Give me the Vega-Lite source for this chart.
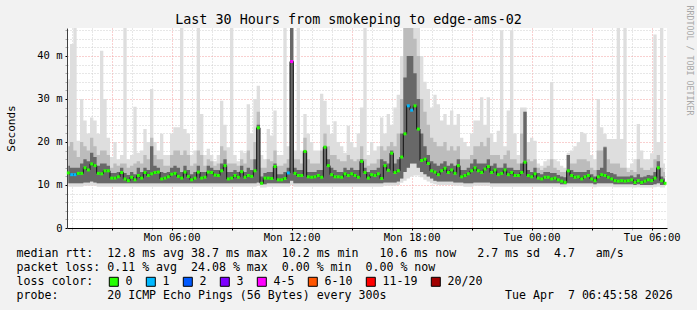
{
  "$schema": "https://vega.github.io/schema/vega-lite/v6.json",
  "autosize": {"type": "none"},
  "padding": {"left": 67, "top": 28, "right": 30, "bottom": 82},
  "width": 600,
  "height": 200,
  "background": "#f2f2f2",
  "config": {
    "view": {"fill": "#ffffff", "stroke": null},
    "font": "DejaVu Sans Mono",
    "axis": {"labelFont": "DejaVu Sans Mono", "titleFont": "DejaVu Sans Mono", "labelColor": "#000000", "titleColor": "#000000", "titleFontWeight": "normal", "labelFontSize": 10.5}
  },
  "data": {"values": [
    {"t":50,"lo":9.6,"q1":10.4,"med":12.8,"dk":14.5,"q3":19,"hi":34.6,"loss":"0"},
    {"t":60,"lo":9.6,"q1":10.4,"med":12.4,"dk":14,"q3":20,"hi":42.8,"loss":"1"},
    {"t":70,"lo":9.6,"q1":10.4,"med":12.4,"dk":14,"q3":18,"hi":46.5,"loss":"1"},
    {"t":80,"lo":9.6,"q1":10.4,"med":12.7,"dk":14,"q3":16.5,"hi":20.3,"loss":"0"},
    {"t":90,"lo":9.6,"q1":10.4,"med":12.7,"dk":15,"q3":20,"hi":30,"loss":"0"},
    {"t":100,"lo":9.8,"q1":10.6,"med":14,"dk":16,"q3":19,"hi":25,"loss":"0"},
    {"t":110,"lo":9.8,"q1":10.6,"med":13.5,"dk":15.5,"q3":18,"hi":22,"loss":"0"},
    {"t":120,"lo":9.8,"q1":10.8,"med":14.9,"dk":17.5,"q3":21,"hi":25.7,"loss":"0"},
    {"t":130,"lo":9.8,"q1":10.6,"med":14.5,"dk":16.5,"q3":19,"hi":25,"loss":"0"},
    {"t":140,"lo":9.6,"q1":10.4,"med":12.7,"dk":14.5,"q3":17,"hi":21.9,"loss":"0"},
    {"t":150,"lo":9.6,"q1":10.4,"med":12.6,"dk":15,"q3":18,"hi":41.2,"loss":"0"},
    {"t":160,"lo":9.6,"q1":10.4,"med":13.3,"dk":15,"q3":18,"hi":30,"loss":"0"},
    {"t":170,"lo":9.6,"q1":10.4,"med":13.3,"dk":14.5,"q3":17,"hi":21,"loss":"0"},
    {"t":180,"lo":9.6,"q1":10.4,"med":11.6,"dk":12.8,"q3":14,"hi":16.5,"loss":"0"},
    {"t":190,"lo":9.6,"q1":10.4,"med":11.6,"dk":12.8,"q3":15,"hi":20,"loss":"0"},
    {"t":200,"lo":9.6,"q1":10.4,"med":11.9,"dk":13,"q3":14.5,"hi":16,"loss":"0"},
    {"t":210,"lo":9.6,"q1":10.4,"med":12.9,"dk":14,"q3":15,"hi":17,"loss":"0"},
    {"t":220,"lo":9.6,"q1":10.4,"med":11.4,"dk":12.8,"q3":15,"hi":46.5,"loss":"0"},
    {"t":230,"lo":9.6,"q1":10.4,"med":11,"dk":12.3,"q3":14,"hi":16,"loss":"0"},
    {"t":240,"lo":9.6,"q1":10.4,"med":11.8,"dk":13,"q3":14.5,"hi":17,"loss":"0"},
    {"t":250,"lo":9.6,"q1":10.4,"med":11.2,"dk":12.5,"q3":15,"hi":28.2,"loss":"0"},
    {"t":260,"lo":9.6,"q1":10.4,"med":12.2,"dk":14,"q3":15.5,"hi":17.5,"loss":"0"},
    {"t":270,"lo":9.6,"q1":10.4,"med":11.6,"dk":13,"q3":15,"hi":18,"loss":"0"},
    {"t":280,"lo":9.6,"q1":10.4,"med":12.9,"dk":14,"q3":17,"hi":23,"loss":"0"},
    {"t":290,"lo":9.6,"q1":10.4,"med":12.2,"dk":13.5,"q3":16,"hi":20,"loss":"0"},
    {"t":300,"lo":9.6,"q1":10.4,"med":12.6,"dk":19,"q3":21,"hi":32.3,"loss":"0"},
    {"t":310,"lo":9.6,"q1":10.4,"med":12.9,"dk":14.5,"q3":17,"hi":20,"loss":"0"},
    {"t":320,"lo":9.6,"q1":10.4,"med":13,"dk":14,"q3":16,"hi":18,"loss":"0"},
    {"t":330,"lo":9.6,"q1":10.4,"med":11.4,"dk":13,"q3":16,"hi":21.9,"loss":"0"},
    {"t":340,"lo":9.6,"q1":10.4,"med":11.6,"dk":12.8,"q3":14.5,"hi":17,"loss":"0"},
    {"t":350,"lo":9.6,"q1":10.4,"med":11.9,"dk":13,"q3":14.5,"hi":17,"loss":"0"},
    {"t":360,"lo":9.6,"q1":10.4,"med":12.5,"dk":14,"q3":17,"hi":22,"loss":"0"},
    {"t":370,"lo":9.6,"q1":10.4,"med":12.7,"dk":14.5,"q3":18,"hi":23.4,"loss":"0"},
    {"t":380,"lo":9.6,"q1":10.4,"med":12,"dk":14,"q3":18,"hi":23.4,"loss":"0"},
    {"t":390,"lo":9.6,"q1":10.4,"med":11.6,"dk":13,"q3":17,"hi":46.5,"loss":"0"},
    {"t":400,"lo":9.6,"q1":10.4,"med":13,"dk":14.5,"q3":18,"hi":23,"loss":"0"},
    {"t":410,"lo":9.6,"q1":10.4,"med":12,"dk":13.5,"q3":17,"hi":22,"loss":"0"},
    {"t":420,"lo":9.6,"q1":10.4,"med":11.2,"dk":12.5,"q3":14.5,"hi":17,"loss":"0"},
    {"t":430,"lo":9.6,"q1":10.4,"med":11.6,"dk":13,"q3":15,"hi":18,"loss":"0"},
    {"t":440,"lo":9.6,"q1":10.4,"med":13,"dk":14.5,"q3":18,"hi":46.5,"loss":"0"},
    {"t":450,"lo":9.6,"q1":10.4,"med":11.6,"dk":13,"q3":17,"hi":26.5,"loss":"0"},
    {"t":460,"lo":9.6,"q1":10.4,"med":11.8,"dk":13,"q3":14.5,"hi":17,"loss":"0"},
    {"t":470,"lo":9.6,"q1":10.4,"med":13,"dk":14.5,"q3":16,"hi":18.4,"loss":"0"},
    {"t":480,"lo":9.6,"q1":10.4,"med":12.9,"dk":14,"q3":15.5,"hi":17,"loss":"0"},
    {"t":490,"lo":9.6,"q1":10.4,"med":12.3,"dk":13.5,"q3":14.5,"hi":15.5,"loss":"0"},
    {"t":500,"lo":9.6,"q1":10.4,"med":12.2,"dk":13.5,"q3":15,"hi":17,"loss":"0"},
    {"t":510,"lo":9.6,"q1":10.4,"med":13.3,"dk":15,"q3":19,"hi":29.6,"loss":"0"},
    {"t":520,"lo":9.6,"q1":10.4,"med":14.5,"dk":16,"q3":18,"hi":24,"loss":"0"},
    {"t":530,"lo":9.6,"q1":10.4,"med":11.4,"dk":13,"q3":15,"hi":18.8,"loss":"0"},
    {"t":540,"lo":9.6,"q1":10.4,"med":11.6,"dk":13,"q3":15,"hi":46.5,"loss":"0"},
    {"t":550,"lo":9.6,"q1":10.4,"med":12.2,"dk":13.5,"q3":15,"hi":17,"loss":"0"},
    {"t":560,"lo":9.6,"q1":10.4,"med":11.8,"dk":13,"q3":14.5,"hi":15.5,"loss":"0"},
    {"t":570,"lo":9.6,"q1":10.4,"med":13.1,"dk":14.5,"q3":16,"hi":18,"loss":"0"},
    {"t":580,"lo":9.6,"q1":10.4,"med":11.8,"dk":13,"q3":15,"hi":17.5,"loss":"0"},
    {"t":590,"lo":9.6,"q1":10.4,"med":12.2,"dk":14,"q3":18,"hi":28.8,"loss":"0"},
    {"t":600,"lo":9.6,"q1":10.4,"med":12,"dk":13.5,"q3":16,"hi":22,"loss":"0"},
    {"t":610,"lo":9.6,"q1":10.4,"med":13.3,"dk":16,"q3":20,"hi":30,"loss":"0"},
    {"t":620,"lo":9.8,"q1":10.6,"med":23.3,"dk":24,"q3":27,"hi":33.1,"loss":"0"},
    {"t":630,"lo":9.4,"q1":10.2,"med":10.4,"dk":12,"q3":14,"hi":17,"loss":"0"},
    {"t":640,"lo":9.4,"q1":10.2,"med":11.6,"dk":12.8,"q3":14,"hi":16,"loss":"0"},
    {"t":650,"lo":9.6,"q1":10.4,"med":11.6,"dk":13,"q3":16,"hi":23,"loss":"0"},
    {"t":660,"lo":9.6,"q1":10.4,"med":11.5,"dk":13,"q3":15.5,"hi":21.5,"loss":"0"},
    {"t":670,"lo":9.6,"q1":10.4,"med":14.3,"dk":15,"q3":18,"hi":27.3,"loss":"0"},
    {"t":680,"lo":9.6,"q1":10.4,"med":11.2,"dk":12.5,"q3":14.5,"hi":17,"loss":"0"},
    {"t":690,"lo":9.6,"q1":10.4,"med":11.2,"dk":12.5,"q3":14.5,"hi":17,"loss":"0"},
    {"t":700,"lo":9.6,"q1":10.4,"med":11.5,"dk":13,"q3":15,"hi":46.5,"loss":"0"},
    {"t":710,"lo":9.6,"q1":10.4,"med":12.8,"dk":14,"q3":16,"hi":19,"loss":"1"},
    {"t":720,"lo":10,"q1":11,"med":38.7,"dk":46.5,"q3":46.5,"hi":46.5,"loss":"4-5"},
    {"t":730,"lo":9.6,"q1":10.4,"med":12.7,"dk":14,"q3":16,"hi":18,"loss":"0"},
    {"t":740,"lo":9.6,"q1":10.4,"med":12.2,"dk":13.5,"q3":16,"hi":46.5,"loss":"0"},
    {"t":750,"lo":9.6,"q1":10.4,"med":12.2,"dk":13.5,"q3":15,"hi":18,"loss":"0"},
    {"t":760,"lo":9.6,"q1":10.4,"med":17.8,"dk":18,"q3":21,"hi":26.5,"loss":"0"},
    {"t":770,"lo":9.6,"q1":10.4,"med":11.9,"dk":13,"q3":16,"hi":21.9,"loss":"0"},
    {"t":780,"lo":9.6,"q1":10.4,"med":11.8,"dk":13,"q3":15,"hi":20,"loss":"0"},
    {"t":790,"lo":9.6,"q1":10.4,"med":11.9,"dk":13,"q3":15,"hi":18,"loss":"0"},
    {"t":800,"lo":9.6,"q1":10.4,"med":12.2,"dk":13.5,"q3":15,"hi":18,"loss":"0"},
    {"t":810,"lo":9.6,"q1":10.4,"med":11.8,"dk":13.5,"q3":18,"hi":31.2,"loss":"0"},
    {"t":820,"lo":9.6,"q1":10.4,"med":18.8,"dk":19,"q3":22,"hi":29.6,"loss":"0"},
    {"t":830,"lo":9.6,"q1":10.4,"med":14.5,"dk":16,"q3":19,"hi":24,"loss":"0"},
    {"t":840,"lo":9.6,"q1":10.4,"med":12.4,"dk":14,"q3":17,"hi":21.9,"loss":"0"},
    {"t":850,"lo":9.6,"q1":10.4,"med":11.9,"dk":13.5,"q3":17,"hi":24.8,"loss":"0"},
    {"t":860,"lo":9.6,"q1":10.4,"med":11.9,"dk":13,"q3":16,"hi":20,"loss":"0"},
    {"t":870,"lo":9.6,"q1":10.4,"med":11.8,"dk":13,"q3":15.5,"hi":19,"loss":"0"},
    {"t":880,"lo":9.6,"q1":10.4,"med":12.6,"dk":14,"q3":15.5,"hi":17.5,"loss":"0"},
    {"t":890,"lo":9.6,"q1":10.4,"med":12.2,"dk":13.5,"q3":17,"hi":23.8,"loss":"0"},
    {"t":900,"lo":9.6,"q1":10.4,"med":12.6,"dk":14,"q3":16,"hi":20,"loss":"0"},
    {"t":910,"lo":9.6,"q1":10.4,"med":12.2,"dk":13.5,"q3":15.5,"hi":18.8,"loss":"0"},
    {"t":920,"lo":9.6,"q1":10.4,"med":11.8,"dk":13.5,"q3":16,"hi":22,"loss":"0"},
    {"t":930,"lo":9.6,"q1":10.4,"med":15.5,"dk":16,"q3":19,"hi":28,"loss":"0"},
    {"t":940,"lo":9.6,"q1":10.4,"med":12.9,"dk":14,"q3":16,"hi":46.5,"loss":"0"},
    {"t":950,"lo":9.6,"q1":10.4,"med":11.6,"dk":13,"q3":14.5,"hi":17,"loss":"0"},
    {"t":960,"lo":9.6,"q1":10.4,"med":12.4,"dk":13.5,"q3":15,"hi":20,"loss":"0"},
    {"t":970,"lo":9.6,"q1":10.4,"med":12.2,"dk":13.5,"q3":15,"hi":18,"loss":"0"},
    {"t":980,"lo":9.6,"q1":10.4,"med":12.6,"dk":14,"q3":16,"hi":19,"loss":"0"},
    {"t":990,"lo":9.6,"q1":10.4,"med":11.5,"dk":16,"q3":19,"hi":25.7,"loss":"0"},
    {"t":1000,"lo":9.8,"q1":10.6,"med":14.5,"dk":15.5,"q3":18,"hi":22,"loss":"0"},
    {"t":1010,"lo":9.8,"q1":10.6,"med":13.4,"dk":15,"q3":19,"hi":26.5,"loss":"0"},
    {"t":1020,"lo":9.8,"q1":10.6,"med":17.4,"dk":18,"q3":20,"hi":24,"loss":"0"},
    {"t":1030,"lo":9.8,"q1":10.6,"med":12.9,"dk":15,"q3":19,"hi":28,"loss":"0"},
    {"t":1040,"lo":10,"q1":10.8,"med":13.3,"dk":16,"q3":22,"hi":31,"loss":"0"},
    {"t":1050,"lo":10.5,"q1":11.5,"med":16.5,"dk":22,"q3":30,"hi":40,"loss":"0"},
    {"t":1060,"lo":11,"q1":13,"med":21.9,"dk":35,"q3":46.5,"hi":46.5,"loss":"0"},
    {"t":1070,"lo":11.5,"q1":14,"med":28.4,"dk":40,"q3":46.5,"hi":46.5,"loss":"1"},
    {"t":1080,"lo":12,"q1":15,"med":27.4,"dk":40,"q3":46.5,"hi":46.5,"loss":"1"},
    {"t":1090,"lo":12.2,"q1":15,"med":28.4,"dk":36,"q3":44,"hi":46.5,"loss":"0"},
    {"t":1100,"lo":12.2,"q1":14,"med":23,"dk":30,"q3":40,"hi":46.5,"loss":"0"},
    {"t":1110,"lo":11.8,"q1":13,"med":15.7,"dk":22,"q3":30,"hi":40,"loss":"0"},
    {"t":1120,"lo":11.2,"q1":12.5,"med":16,"dk":19,"q3":27,"hi":34,"loss":"0"},
    {"t":1130,"lo":10.8,"q1":12,"med":15,"dk":17,"q3":24,"hi":32.3,"loss":"0"},
    {"t":1140,"lo":10.4,"q1":11.5,"med":13.3,"dk":15.5,"q3":21,"hi":28,"loss":"0"},
    {"t":1150,"lo":10.2,"q1":11,"med":13,"dk":15,"q3":20,"hi":31,"loss":"0"},
    {"t":1160,"lo":10,"q1":10.8,"med":12.4,"dk":14.5,"q3":19,"hi":28.8,"loss":"0"},
    {"t":1170,"lo":10,"q1":10.8,"med":13.3,"dk":15,"q3":19,"hi":25,"loss":"0"},
    {"t":1180,"lo":10,"q1":10.8,"med":13.9,"dk":15.5,"q3":20,"hi":26.5,"loss":"0"},
    {"t":1190,"lo":10,"q1":10.8,"med":12.9,"dk":14.5,"q3":18,"hi":24,"loss":"0"},
    {"t":1200,"lo":10,"q1":10.8,"med":13.5,"dk":15,"q3":19,"hi":27.3,"loss":"0"},
    {"t":1210,"lo":9.8,"q1":10.6,"med":12.7,"dk":14.5,"q3":18,"hi":24,"loss":"0"},
    {"t":1220,"lo":9.8,"q1":10.6,"med":14.5,"dk":16,"q3":19,"hi":26.5,"loss":"0"},
    {"t":1230,"lo":9.8,"q1":10.6,"med":11.9,"dk":13.5,"q3":16,"hi":21,"loss":"0"},
    {"t":1240,"lo":9.6,"q1":10.4,"med":12.2,"dk":13.5,"q3":16,"hi":20,"loss":"0"},
    {"t":1250,"lo":9.6,"q1":10.4,"med":12.6,"dk":14,"q3":16,"hi":19,"loss":"0"},
    {"t":1260,"lo":9.6,"q1":10.4,"med":13.3,"dk":15,"q3":17,"hi":22,"loss":"0"},
    {"t":1270,"lo":9.8,"q1":10.6,"med":14,"dk":16,"q3":19,"hi":25,"loss":"0"},
    {"t":1280,"lo":9.8,"q1":10.6,"med":13.3,"dk":15,"q3":19,"hi":25,"loss":"0"},
    {"t":1290,"lo":9.8,"q1":10.6,"med":12.9,"dk":15,"q3":20,"hi":30.4,"loss":"0"},
    {"t":1300,"lo":9.8,"q1":10.6,"med":13.7,"dk":15,"q3":19,"hi":24,"loss":"0"},
    {"t":1310,"lo":9.8,"q1":10.6,"med":14.3,"dk":16,"q3":21,"hi":30.4,"loss":"0"},
    {"t":1320,"lo":9.6,"q1":10.4,"med":12.9,"dk":14.5,"q3":17,"hi":21.9,"loss":"0"},
    {"t":1330,"lo":9.6,"q1":10.4,"med":13.5,"dk":15,"q3":17,"hi":20,"loss":"0"},
    {"t":1340,"lo":9.6,"q1":10.4,"med":12.4,"dk":14,"q3":17,"hi":22.6,"loss":"0"},
    {"t":1350,"lo":9.6,"q1":10.4,"med":12.7,"dk":14,"q3":16,"hi":46,"loss":"0"},
    {"t":1360,"lo":9.6,"q1":10.4,"med":13.5,"dk":15,"q3":17,"hi":19,"loss":"0"},
    {"t":1370,"lo":9.6,"q1":10.4,"med":12.4,"dk":14,"q3":18,"hi":27.3,"loss":"0"},
    {"t":1380,"lo":9.6,"q1":10.4,"med":12.9,"dk":14,"q3":16,"hi":46,"loss":"0"},
    {"t":1390,"lo":9.6,"q1":10.4,"med":12.2,"dk":13.5,"q3":16,"hi":22,"loss":"0"},
    {"t":1400,"lo":9.6,"q1":10.4,"med":12.2,"dk":13.5,"q3":15,"hi":17,"loss":"0"},
    {"t":1410,"lo":9.6,"q1":10.4,"med":12.9,"dk":15,"q3":22,"hi":28,"loss":"0"},
    {"t":1420,"lo":9.6,"q1":10.4,"med":15.3,"dk":27,"q3":27,"hi":28,"loss":"0"},
    {"t":1430,"lo":9.6,"q1":10.4,"med":12.2,"dk":13.5,"q3":16,"hi":20,"loss":"0"},
    {"t":1440,"lo":9.6,"q1":10.4,"med":11.9,"dk":13,"q3":15.5,"hi":21,"loss":"0"},
    {"t":1450,"lo":9.6,"q1":10.4,"med":12.6,"dk":14,"q3":16,"hi":20.3,"loss":"0"},
    {"t":1460,"lo":9.6,"q1":10.4,"med":11.6,"dk":12.8,"q3":14,"hi":15,"loss":"0"},
    {"t":1470,"lo":9.6,"q1":10.4,"med":11.4,"dk":12.5,"q3":13.5,"hi":14.5,"loss":"0"},
    {"t":1480,"lo":9.6,"q1":10.4,"med":11.8,"dk":13,"q3":14,"hi":15.5,"loss":"0"},
    {"t":1490,"lo":9.6,"q1":10.4,"med":11.8,"dk":13,"q3":14.5,"hi":16,"loss":"0"},
    {"t":1500,"lo":9.6,"q1":10.4,"med":11.4,"dk":12.8,"q3":16,"hi":33.9,"loss":"0"},
    {"t":1510,"lo":9.6,"q1":10.4,"med":11.6,"dk":12.8,"q3":14,"hi":16,"loss":"0"},
    {"t":1520,"lo":9.6,"q1":10.4,"med":11.2,"dk":12.3,"q3":13.5,"hi":15.5,"loss":"0"},
    {"t":1530,"lo":9.5,"q1":10.2,"med":10.9,"dk":12,"q3":13,"hi":14.5,"loss":"0"},
    {"t":1540,"lo":9.5,"q1":10.2,"med":10.6,"dk":11.8,"q3":13,"hi":14,"loss":"0"},
    {"t":1550,"lo":9.6,"q1":10.4,"med":13.3,"dk":17,"q3":17,"hi":17.5,"loss":"0"},
    {"t":1560,"lo":9.6,"q1":10.4,"med":12.2,"dk":13.5,"q3":15,"hi":18,"loss":"0"},
    {"t":1570,"lo":9.6,"q1":10.4,"med":11.8,"dk":13,"q3":15,"hi":19,"loss":"0"},
    {"t":1580,"lo":9.6,"q1":10.4,"med":11.9,"dk":13,"q3":16,"hi":20,"loss":"0"},
    {"t":1590,"lo":9.6,"q1":10.4,"med":11.4,"dk":13,"q3":16,"hi":22.3,"loss":"0"},
    {"t":1600,"lo":9.6,"q1":10.4,"med":11.9,"dk":13,"q3":16,"hi":22,"loss":"0"},
    {"t":1610,"lo":9.6,"q1":10.4,"med":12.2,"dk":13.5,"q3":15.5,"hi":20,"loss":"0"},
    {"t":1620,"lo":9.6,"q1":10.4,"med":11.4,"dk":12.5,"q3":14,"hi":17,"loss":"0"},
    {"t":1630,"lo":9.5,"q1":10.2,"med":11,"dk":12,"q3":13.5,"hi":16,"loss":"0"},
    {"t":1640,"lo":9.6,"q1":10.4,"med":11.9,"dk":13.5,"q3":18,"hi":30,"loss":"0"},
    {"t":1650,"lo":9.6,"q1":10.4,"med":12.4,"dk":14,"q3":18,"hi":23.4,"loss":"0"},
    {"t":1660,"lo":9.6,"q1":10.4,"med":12.2,"dk":18.8,"q3":19,"hi":21.9,"loss":"0"},
    {"t":1670,"lo":9.6,"q1":10.4,"med":11.8,"dk":13,"q3":16,"hi":20.7,"loss":"0"},
    {"t":1680,"lo":9.6,"q1":10.4,"med":11.4,"dk":12.8,"q3":15,"hi":20.7,"loss":"0"},
    {"t":1690,"lo":9.5,"q1":10.2,"med":11,"dk":12.5,"q3":15,"hi":20.7,"loss":"0"},
    {"t":1700,"lo":9.5,"q1":10.2,"med":10.9,"dk":12,"q3":15,"hi":46.5,"loss":"0"},
    {"t":1710,"lo":9.5,"q1":10.2,"med":11,"dk":12,"q3":14,"hi":20.7,"loss":"0"},
    {"t":1720,"lo":9.5,"q1":10.2,"med":10.9,"dk":12,"q3":14,"hi":46.5,"loss":"0"},
    {"t":1730,"lo":9.5,"q1":10.2,"med":11,"dk":12,"q3":13,"hi":14,"loss":"0"},
    {"t":1740,"lo":9.5,"q1":10.2,"med":11.2,"dk":12.2,"q3":13.5,"hi":15,"loss":"0"},
    {"t":1750,"lo":9.4,"q1":10,"med":10.6,"dk":11.8,"q3":13,"hi":16,"loss":"0"},
    {"t":1760,"lo":9.5,"q1":10.2,"med":11,"dk":12.5,"q3":16,"hi":24.2,"loss":"0"},
    {"t":1770,"lo":9.4,"q1":10,"med":10.6,"dk":11.8,"q3":14,"hi":18,"loss":"0"},
    {"t":1780,"lo":9.4,"q1":10,"med":10.9,"dk":12,"q3":13.5,"hi":16,"loss":"0"},
    {"t":1790,"lo":9.4,"q1":10,"med":11.2,"dk":12.3,"q3":13.5,"hi":16,"loss":"0"},
    {"t":1800,"lo":9.4,"q1":10,"med":11,"dk":12.2,"q3":14,"hi":17.4,"loss":"0"},
    {"t":1810,"lo":9.5,"q1":10.2,"med":11.6,"dk":13,"q3":16,"hi":45,"loss":"0"},
    {"t":1820,"lo":9.6,"q1":10.4,"med":14,"dk":15.5,"q3":17,"hi":20,"loss":"0"},
    {"t":1830,"lo":9.4,"q1":10,"med":11,"dk":12,"q3":14,"hi":46.5,"loss":"0"},
    {"t":1840,"lo":9.4,"q1":10,"med":10.4,"dk":11.5,"q3":13,"hi":15,"loss":"0"}
  ]},
  "layer": [
    {
      "mark": {"type": "area", "interpolate": "step", "color": "#dedede"},
      "encoding": {
        "x": {"field": "t", "type": "quantitative", "scale": {"domain": [46, 1846], "nice": false, "zero": false},
          "axis": {
            "orient": "bottom",
            "values": [60,120,180,240,300,360,420,480,540,600,660,720,780,840,900,960,1020,1080,1140,1200,1260,1320,1380,1440,1500,1560,1620,1680,1740,1800],
            "labelExpr": "datum.value % 360 === 0 ? (datum.value < 1440 ? 'Mon ' : 'Tue ') + (floor(datum.value / 60) % 24 < 10 ? '0' : '') + (floor(datum.value / 60) % 24) + ':00' : ''",
            "labelOverlap": false, "labelFlush": false, "labelPadding": 2, "labelBaseline": "top",
            "tickSize": 2,
            "tickColor": {"condition": {"test": "datum.value % 180 === 0", "value": "#000000"}, "value": "#aaaaaa"},
            "grid": true,
            "gridColor": {"condition": {"test": "datum.value % 180 === 0", "value": "#f2a0a0"}, "value": "#cfcfcf"},
            "gridDash": [1, 2],
            "domainColor": "#000000",
            "title": [
              "median rtt:\u00a0\u00a012.8 ms avg 38.7 ms max\u00a0\u00a010.2 ms min\u00a0\u00a0\u00a010.6 ms now\u00a0\u00a0\u00a02.7 ms sd\u00a0\u00a04.7\u00a0\u00a0\u00a0am/s",
              "packet loss: 0.11 % avg\u00a0\u00a024.08 % max\u00a0\u00a00.00 % min\u00a0\u00a00.00 % now",
              "loss color:",
              "probe:\u00a0\u00a0\u00a0\u00a0\u00a0\u00a0\u00a020 ICMP Echo Pings (56 Bytes) every 300s\u00a0\u00a0\u00a0\u00a0\u00a0\u00a0\u00a0\u00a0\u00a0\u00a0\u00a0\u00a0\u00a0\u00a0\u00a0\u00a0\u00a0Tue Apr\u00a0\u00a07 06:45:58 2026"
            ],
            "titleFontSize": 11.6, "titleLineHeight": 14, "titleAlign": "left", "titleBaseline": "top", "titleX": -51, "titleY": 19
          }
        },
        "y": {"field": "lo", "type": "quantitative", "scale": {"domain": [0, 46.5], "nice": false, "zero": false},
          "axis": {
            "orient": "left",
            "values": [0,2,4,6,8,10,12,14,16,18,20,22,24,26,28,30,32,34,36,38,40,42,44,46],
            "labelExpr": "datum.value % 10 === 0 ? (datum.value === 0 ? '0' : datum.value + ' m') : ''",
            "labelOverlap": false, "labelFlush": false, "labelPadding": 3,
            "tickSize": 2,
            "tickColor": {"condition": {"test": "datum.value % 10 === 0", "value": "#000000"}, "value": "#aaaaaa"},
            "grid": true,
            "gridColor": {"condition": {"test": "datum.value % 10 === 0", "value": "#f2a0a0"}, "value": "#cfcfcf"},
            "gridDash": [1, 2],
            "domainColor": "#404040",
            "title": "Seconds", "titleFontSize": 11, "titleX": -56, "titleY": 100, "titleAlign": "center", "titleBaseline": "middle", "titleAngle": -90
          }
        },
        "y2": {"field": "hi"}
      }
    },
    {
      "mark": {"type": "area", "interpolate": "step", "color": "#bcbcbc"},
      "encoding": {
        "x": {"field": "t", "type": "quantitative",
          "axis": {"orient": "top", "labels": false, "ticks": false, "domain": false, "grid": false,
            "title": "Last 30 Hours from smokeping to edge-ams-02", "titleFontSize": 13.4, "titleX": 281, "titleY": -9, "titleAlign": "center", "titleBaseline": "middle"}
        },
        "y": {"field": "q1", "type": "quantitative",
          "axis": {"orient": "right", "labels": false, "ticks": false, "domain": false, "grid": false,
            "title": "RRDTOOL / TOBI OETIKER", "titleFontSize": 8.3, "titleColor": "#a8a8a8", "titleAngle": 90, "titleX": 21, "titleY": 32, "titleAlign": "center", "titleBaseline": "middle"}
        },
        "y2": {"field": "q3"}
      }
    },
    {
      "mark": {"type": "area", "interpolate": "step", "color": "#686868"},
      "encoding": {
        "x": {"field": "t", "type": "quantitative", "axis": null},
        "y": {"field": "q1", "type": "quantitative", "axis": null},
        "y2": {"field": "dk"}
      }
    },
    {
      "mark": {"type": "line", "interpolate": "step", "color": "#111111", "strokeWidth": 1},
      "encoding": {
        "x": {"field": "t", "type": "quantitative", "axis": null},
        "y": {"field": "med", "type": "quantitative", "axis": null}
      }
    },
    {
      "mark": {"type": "point", "shape": "square", "filled": true, "size": 9, "opacity": 1},
      "encoding": {
        "x": {"field": "t", "type": "quantitative", "axis": null},
        "y": {"field": "med", "type": "quantitative", "axis": null},
        "color": {"field": "loss", "type": "nominal",
          "scale": {"domain": ["0","1","2","3","4-5","6-10","11-19","20/20"], "range": ["#26ff00","#00b8ff","#0059ff","#7e00ff","#ff00ff","#ff5500","#ff0000","#a10000"]},
          "legend": {
            "orient": "none", "legendX": 41, "legendY": 248,
            "direction": "horizontal", "columns": 8, "gridAlign": "none",
            "title": null,
            "symbolType": "square", "symbolSize": 81, "symbolStrokeWidth": 1, "symbolStrokeColor": "#000000", "symbolOpacity": 1,
            "labelFont": "DejaVu Sans Mono", "labelFontSize": 11.6, "labelColor": "#000000", "labelOffset": 6, "columnPadding": 11,
            "encode": {"symbols": {"update": {"stroke": {"value": "#000000"}, "strokeWidth": {"value": 1}}}}
          }
        }
      }
    }
  ],
  "resolve": {"axis": {"x": "independent", "y": "independent"}}
}
